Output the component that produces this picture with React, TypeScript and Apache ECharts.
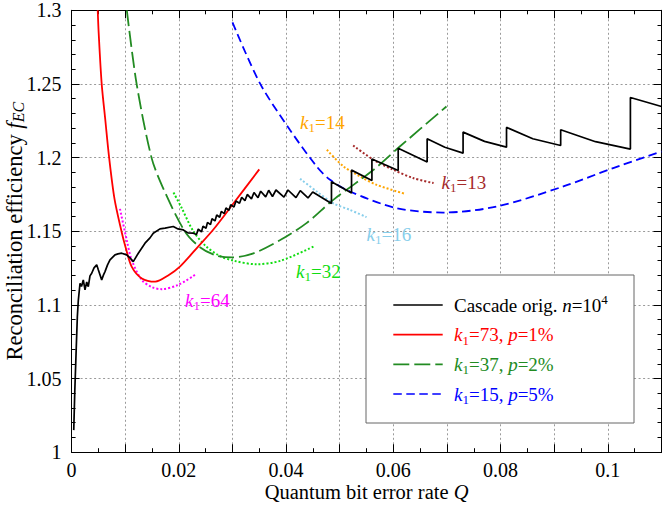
import React, { useEffect, useRef } from "react";
import * as echarts from "echarts";

const FONT = "Liberation Serif";

// ---- data (Q, f_EC) ----
const cascadePts: [number, number][] = [
  [0.0004, 1.015], [0.0006, 1.042], [0.00085, 1.069], [0.00107, 1.092], [0.00125, 1.103],
  [0.00157, 1.1147], [0.00185, 1.1125], [0.00218, 1.117], [0.0025, 1.1102], [0.00282, 1.1156],
  [0.00311, 1.1124], [0.00343, 1.1197], [0.00375, 1.1215], [0.00418, 1.1251], [0.00468, 1.1272],
  [0.00498, 1.1238], [0.00561, 1.117], [0.00595, 1.1204], [0.00623, 1.1226], [0.0067, 1.1272],
  [0.00716, 1.1306], [0.00809, 1.134], [0.00865, 1.1346], [0.00934, 1.1351], [0.01027, 1.134],
  [0.01089, 1.1319], [0.0115, 1.1294], [0.01244, 1.1351], [0.01369, 1.1419], [0.01462, 1.1455],
  [0.01523, 1.1487], [0.01648, 1.1516], [0.01742, 1.1521], [0.01896, 1.1532], [0.01984, 1.1516],
  [0.02083, 1.1509], [0.0217, 1.1489], [0.02269, 1.1487],
  [0.02329, 1.1478], [0.02362, 1.1515], [0.02422, 1.1495], [0.0245, 1.1535], [0.02506, 1.152],
  [0.02534, 1.156], [0.0259, 1.1545], [0.02618, 1.1585], [0.02674, 1.157], [0.02706, 1.161],
  [0.02762, 1.1595], [0.02791, 1.1635], [0.02847, 1.162], [0.02879, 1.1658], [0.02935, 1.1642],
  [0.02967, 1.168], [0.03028, 1.1665], [0.03065, 1.1705], [0.03131, 1.169], [0.03172, 1.173],
  [0.03233, 1.1708], [0.03276, 1.175], [0.03354, 1.172], [0.03401, 1.1763], [0.03476, 1.1728],
  [0.03526, 1.1772], [0.03619, 1.1733], [0.03675, 1.1778], [0.03746, 1.1736], [0.03811, 1.178],
  [0.0396, 1.1732], [0.04035, 1.178], [0.04184, 1.1728], [0.04264, 1.1776], [0.04408, 1.1726],
  [0.04496, 1.1766], [0.04846, 1.1688], [0.04846, 1.1836], [0.0522, 1.176], [0.0522, 1.1915],
  [0.056, 1.1844], [0.056, 1.199], [0.0609, 1.1912], [0.0609, 1.2063], [0.0663, 1.197],
  [0.0663, 1.2128], [0.0696, 1.207], [0.073, 1.203], [0.073, 1.2173], [0.077, 1.211],
  [0.0811, 1.2071], [0.0811, 1.2205], [0.086, 1.2128], [0.0912, 1.2082], [0.0912, 1.2189],
  [0.0977, 1.2108], [0.1042, 1.2058], [0.1042, 1.2408], [0.11, 1.2347],
];
const k73Pts: [number, number][] = [
  [0.00487, 1.3], [0.00505, 1.2846], [0.0056, 1.2506], [0.0063, 1.225], [0.007, 1.2],
  [0.008, 1.172], [0.0093, 1.15], [0.01, 1.14], [0.0112, 1.126], [0.0131, 1.118],
  [0.0156, 1.1158], [0.018, 1.12], [0.0202, 1.126], [0.0236, 1.1396], [0.0264, 1.151],
  [0.0302, 1.169], [0.035, 1.192],
];
const k37Pts: [number, number][] = [
  [0.0103, 1.3], [0.0121, 1.2506], [0.0149, 1.2], [0.0171, 1.179], [0.0211, 1.15],
  [0.024, 1.139], [0.027, 1.1335], [0.0299, 1.1322], [0.0339, 1.135], [0.0389, 1.144],
  [0.0438, 1.1555], [0.0488, 1.1713], [0.0563, 1.1917], [0.0612, 1.2075], [0.0699, 1.2347],
];
const k15Pts: [number, number][] = [
  [0.03, 1.2918], [0.0351, 1.2506], [0.0407, 1.2189], [0.0457, 1.194], [0.0482, 1.1849],
  [0.0519, 1.177], [0.0606, 1.1657], [0.0693, 1.1627], [0.0793, 1.1668], [0.0917, 1.1804],
  [0.101, 1.1929], [0.11, 1.2041],
];
const k64Pts: [number, number][] = [
  [0.00902, 1.1652], [0.01027, 1.1442], [0.0112, 1.1306], [0.01307, 1.117], [0.015, 1.112],
  [0.0168, 1.1107], [0.0199, 1.1136], [0.023, 1.1204],
];
const k32Pts: [number, number][] = [
  [0.019, 1.1763], [0.0205, 1.166], [0.0227, 1.15], [0.025, 1.14], [0.0275, 1.1335],
  [0.0302, 1.13], [0.0345, 1.1276], [0.039, 1.13], [0.0451, 1.1396],
];
const k16Pts: [number, number][] = [
  [0.0426, 1.1857], [0.0457, 1.177], [0.0488, 1.169], [0.0519, 1.1645], [0.055, 1.1596],
];
const k14Pts: [number, number][] = [
  [0.0476, 1.2053], [0.0507, 1.194], [0.0538, 1.1872], [0.0569, 1.1815], [0.0622, 1.1754],
];
const k13Pts: [number, number][] = [
  [0.0525, 1.2082], [0.0563, 1.1985], [0.06, 1.1917], [0.0637, 1.1861], [0.0675, 1.1827],
];

const xRange = [0, 0.11];
const yRange = [1, 1.3];

const legendTexts = [
  "{n|Cascade orig. }{i|n}{n|=10}{sup|4}",
  "{i|k}{s|1}{n|=73, }{i|p}{n|=1%}",
  "{i|k}{s|1}{n|=37, }{i|p}{n|=2%}",
  "{i|k}{s|1}{n|=15, }{i|p}{n|=5%}",
];
const legendColors = ["#000000", "#ff0000", "#228b22", "#0000ff"];
const legendDash: (number[] | null)[] = [null, null, [16, 5], [8.5, 4.5]];

const kLabels = ["64", "32", "16", "14", "13"];
const kColors = ["#ff00ff", "#11dd11", "#87ceeb", "#ffa500", "#a52a2a"];
const kLabelPos = [
  [185, 300],
  [296, 271],
  [366.5, 234],
  [300, 122],
  [441.5, 182],
];

function rich(color: string, size = 19, lh = 24) {
  const subSize = Math.round(size * 0.69);
  const base = { fontFamily: FONT, fontSize: size, fill: color, color, lineHeight: lh };
  const small = { fontFamily: FONT, fontSize: subSize, fill: color, color, lineHeight: subSize };
  return {
    n: { ...base },
    i: { ...base, fontStyle: "italic" },
    s: { ...small, verticalAlign: "bottom" },
    si: { ...small, fontStyle: "italic", verticalAlign: "bottom" },
    sup: { ...small, verticalAlign: "top" },
  };
}

const axisCommon = {
  axisLine: { show: true, onZero: false, lineStyle: { color: "#000", width: 1 } },
  axisTick: { show: true, inside: true, length: 8, lineStyle: { color: "#000", width: 1 } },
  minorTick: { show: true, length: 4, lineStyle: { color: "#000", width: 1 } },
};
const gridLine = { show: true, lineStyle: { color: "#9a9a9a", width: 1, type: [2, 2.5] } };

function buildOption() {
  const lineSeries = (name: string, data: [number, number][], color: string, width: number, type: any, smooth: number | boolean, z = 3) => ({
    type: "line",
    name,
    data,
    symbol: "none",
    showSymbol: false,
    smooth,
    clip: true,
    z,
    lineStyle: { color, width, type },
    xAxisIndex: 0,
    yAxisIndex: 0,
  });

  const graphic: any[] = [
    {
      type: "rect",
      shape: { x: 366, y: 275, width: 268, height: 148 },
      style: { fill: "#fff", stroke: "#666", lineWidth: 1 },
      z: 100,
    },
  ];
  const rowY = [305, 334.7, 364.4, 394];
  legendTexts.forEach((t, idx) => {
    graphic.push({
      type: "line",
      shape: { x1: 393.3, y1: rowY[idx], x2: 442.7, y2: rowY[idx] },
      style: { stroke: legendColors[idx], lineWidth: 1.7, lineDash: legendDash[idx] || undefined },
      z: 101,
    });
    graphic.push({
      type: "text",
      x: 454,
      y: rowY[idx],
      style: {
        text: t,
        rich: rich(legendColors[idx]),
        fill: legendColors[idx],
        fontFamily: FONT,
        fontSize: 19,
        align: "left",
        verticalAlign: "middle",
      },
      z: 101,
    });
  });
  kLabels.forEach((k, idx) => {
    graphic.push({
      type: "text",
      x: kLabelPos[idx][0],
      y: kLabelPos[idx][1],
      style: {
        text: `{i|k}{s|1}{n|=${k}}`,
        rich: rich(kColors[idx]),
        fill: kColors[idx],
        fontFamily: FONT,
        fontSize: 19,
        align: "left",
        verticalAlign: "middle",
      },
      z: 101,
    });
  });

  return {
    animation: false,
    backgroundColor: "#fff",
    grid: { left: 71.6, right: 2.5, top: 10.3, bottom: 56.8, containLabel: false, outerBoundsMode: "none" },
    xAxis: [
      {
        type: "value",
        position: "bottom",
        min: xRange[0],
        max: xRange[1],
        interval: 0.01,
        ...axisCommon,
        minorTick: { ...axisCommon.minorTick, splitNumber: 2 },
        splitLine: gridLine,
        axisLabel: {
          color: "#000",
          fontFamily: FONT,
          fontSize: 20,
          lineHeight: 18,
          margin: 8.5,
          showMaxLabel: false,
          formatter: (v: number) => {
            const k = Math.round(v * 100);
            return k % 2 === 0 ? String(k / 100) : "";
          },
        },
        name: "{n|Quantum bit error rate }{i|Q}",
        nameLocation: "middle",
        nameGap: 31,
        nameMoveOverlap: false,
        nameTextStyle: { rich: rich("#000", 20.5, 18) },
      },
      {
        type: "value",
        position: "top",
        min: xRange[0],
        max: xRange[1],
        interval: 0.01,
        ...axisCommon,
        minorTick: { ...axisCommon.minorTick, splitNumber: 2 },
        splitLine: { show: false },
        axisLabel: { show: false },
      },
    ],
    yAxis: [
      {
        type: "value",
        position: "left",
        min: yRange[0],
        max: yRange[1],
        interval: 0.05,
        ...axisCommon,
        minorTick: { ...axisCommon.minorTick, splitNumber: 5 },
        splitLine: gridLine,
        axisLabel: { color: "#000", fontFamily: FONT, fontSize: 20, margin: 10 },
        name: "{n|Reconciliation efficiency }{i|f}{si|EC}",
        nameLocation: "middle",
        nameGap: 45,
        nameMoveOverlap: false,
        nameTextStyle: { rich: rich("#000", 22.5, 24) },
      },
      {
        type: "value",
        position: "right",
        min: yRange[0],
        max: yRange[1],
        interval: 0.05,
        ...axisCommon,
        minorTick: { ...axisCommon.minorTick, splitNumber: 5 },
        splitLine: { show: false },
        axisLabel: { show: false },
      },
    ],
    series: [
      lineSeries("k1=64", k64Pts, "#ff00ff", 2, [2, 2], 0.3),
      lineSeries("k1=32", k32Pts, "#11dd11", 2, [2, 2], 0.3),
      lineSeries("k1=16", k16Pts, "#87ceeb", 2, [2, 2], 0.3),
      lineSeries("k1=14", k14Pts, "#ffa500", 2, [2, 2], 0.3),
      lineSeries("k1=13", k13Pts, "#a52a2a", 2, [2, 2], 0.3),
      lineSeries("k1=73, p=1%", k73Pts, "#ff0000", 1.8, "solid", 0.3, 4),
      lineSeries("k1=37, p=2%", k37Pts, "#228b22", 1.8, [16, 5], 0.3, 4),
      lineSeries("k1=15, p=5%", k15Pts, "#0000ff", 1.8, [8.5, 4.5], 0.3, 4),
      lineSeries("Cascade orig. n=10^4", cascadePts, "#000000", 1.7, "solid", false, 5),
    ],
    graphic,
  };
}

export default function App() {
  const ref = useRef<HTMLDivElement>(null);
  useEffect(() => {
    if (!ref.current) return;
    const chart = echarts.init(ref.current, null, { renderer: "svg" });
    chart.setOption(buildOption() as any);
    return () => chart.dispose();
  }, []);
  return (
    <div
      ref={ref}
      style={{ position: "absolute", left: 0, top: 0, width: 664, height: 509 }}
    />
  );
}
